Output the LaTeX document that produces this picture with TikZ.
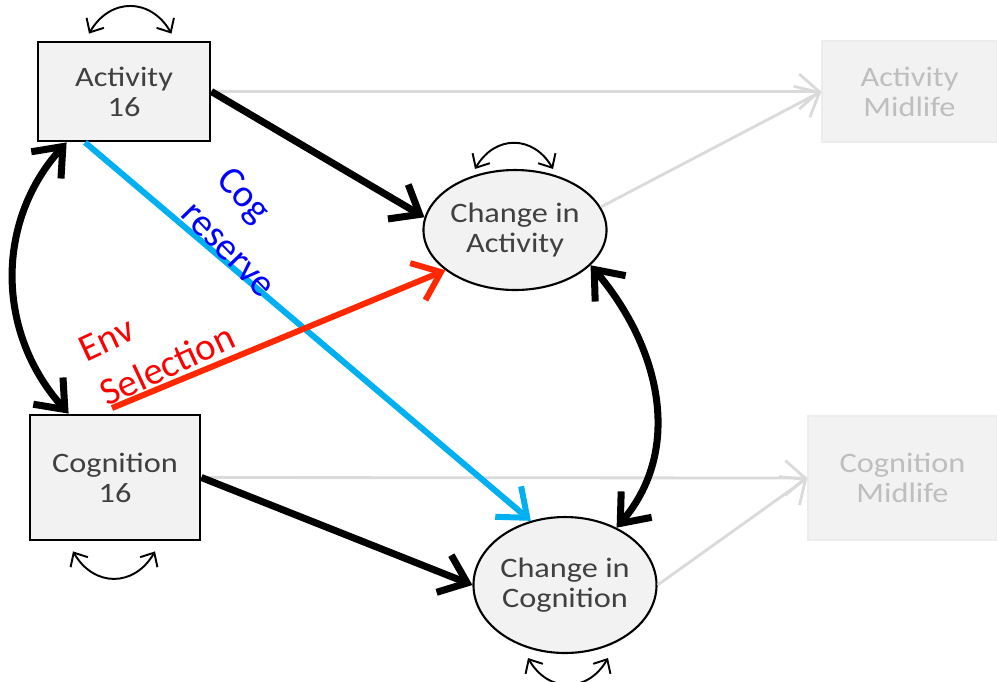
\documentclass[tikz,border=0pt]{standalone}
\usepackage{fontspec}
\setmainfont{Carlito}[FakeStretch=1.15]
\newfontfamily\labelfont{Carlito}
\usetikzlibrary{positioning,arrows.meta,shapes.geometric}
\definecolor{BoxFill}{RGB}{242,242,242}
\definecolor{FadeLine}{RGB}{218,218,218}
\definecolor{FadeText}{RGB}{190,190,190}
\definecolor{CogBlue}{RGB}{0,176,240}
\definecolor{EnvRed}{RGB}{255,40,0}
\definecolor{NodeText}{RGB}{64,64,64}

\begin{document}
\begin{tikzpicture}[
    x=0.02cm, y=-0.02cm,
    block/.style={rectangle, draw=black, line width=1.6pt, fill=BoxFill, align=center,
        inner sep=0pt, font=\fontsize{16}{17}\selectfont, text=NodeText},
    change/.style={ellipse, draw=black, line width=1.2pt, fill=BoxFill, align=center,
        inner sep=0pt, font=\fontsize{16}{17}\selectfont, text=NodeText},
    faded/.style={rectangle, draw=FadeLine!50, line width=0.8pt, fill=BoxFill, align=center,
        inner sep=0pt, font=\fontsize{16}{17}\selectfont, text=FadeText},
    effect/.style={-{Straight Barb[length=5mm,width=8mm]}, line width=4pt},
    fadearrow/.style={-{Straight Barb[length=4mm,width=7mm]}, line width=1.6pt, FadeLine},
    covar/.style={{Straight Barb[length=5mm,width=8mm]}-{Straight Barb[length=5mm,width=8mm]}, line width=4pt},
    selfvar/.style={{Straight Barb[length=2.2mm,width=4mm]}-{Straight Barb[length=2.2mm,width=4mm]}, line width=1.1pt},
    pathlabel/.style={font=\labelfont\fontsize{22}{28}\selectfont, align=left},
]
\useasboundingbox (0,0) rectangle (997,681);

% variables
\node[block, minimum width=3.44cm, minimum height=1.98cm] (act16) at (124,91.5) {Activity\\16};
\node[block, minimum width=3.4cm, minimum height=2.5cm] (cog16) at (115,477.5) {Cognition\\16};
\node[change, minimum width=3.52cm, minimum height=2.4cm] (dact) at (515,230) {Change in\\Activity};
\node[change, minimum width=3.6cm, minimum height=2.72cm] (dcog) at (565,585) {Change in\\Cognition};
\node[faded, minimum width=3.5cm, minimum height=2.02cm] (actmid) at (909.5,91.5) {Activity\\Midlife};
\node[faded, minimum width=3.78cm, minimum height=2.48cm] (cogmid) at (902.5,478) {Cognition\\Midlife};

% faded paths to midlife
\draw[fadearrow] (act16.east) -- (actmid.west);
\draw[fadearrow] (dact.15) -- (actmid.west);
\draw[fadearrow] (cog16.east) -- (cogmid.west);
\draw[fadearrow] (dcog.east) -- (cogmid.west);

% main paths
\draw[effect] (act16.east) -- (dact.172);
\draw[effect] (cog16.east) -- (dcog.west);
\draw[covar] ([xshift=0.6cm]act16.south west) .. controls +(-72,80) and +(-72,-80) .. ([xshift=0.8cm]cog16.north west);
\draw[covar] (dact.-25) .. controls +(68,80) and +(68,-80) .. (dcog.48);

% cross paths
\draw[-{Straight Barb[length=5mm,width=8mm]}, line width=3.4pt, CogBlue] ([xshift=-0.78cm]act16.south) -- (dcog.118);
\coordinate (envstart) at (112,408);
\draw[-{Straight Barb[length=5mm,width=8mm]}, line width=3.4pt, EnvRed] (envstart) -- (dact.210);

\node[pathlabel, text=blue, rotate=-46] (cogres) at (247,232) {Cog\\reserve};
\node[pathlabel, text=red, rotate=25] (envsel) at (157,343) {Env\\Selection};

% residual variances
\draw[selfvar] ([xshift=-0.7cm,yshift=0.14cm]act16.north) to[bend left=60, looseness=1.3] ([xshift=0.95cm,yshift=0.14cm]act16.north);
\draw[selfvar] ([xshift=-0.8cm]dact.north) to[bend left=60, looseness=1.3] ([xshift=0.76cm]dact.north);
\draw[selfvar] ([xshift=-0.84cm,yshift=-0.2cm]cog16.south) to[bend right=60, looseness=1.3] ([xshift=0.8cm,yshift=-0.2cm]cog16.south);
\draw[selfvar] ([xshift=-0.74cm,yshift=-0.08cm]dcog.south) to[bend right=60, looseness=1.3] ([xshift=0.86cm,yshift=-0.08cm]dcog.south);
\end{tikzpicture}
\end{document}
